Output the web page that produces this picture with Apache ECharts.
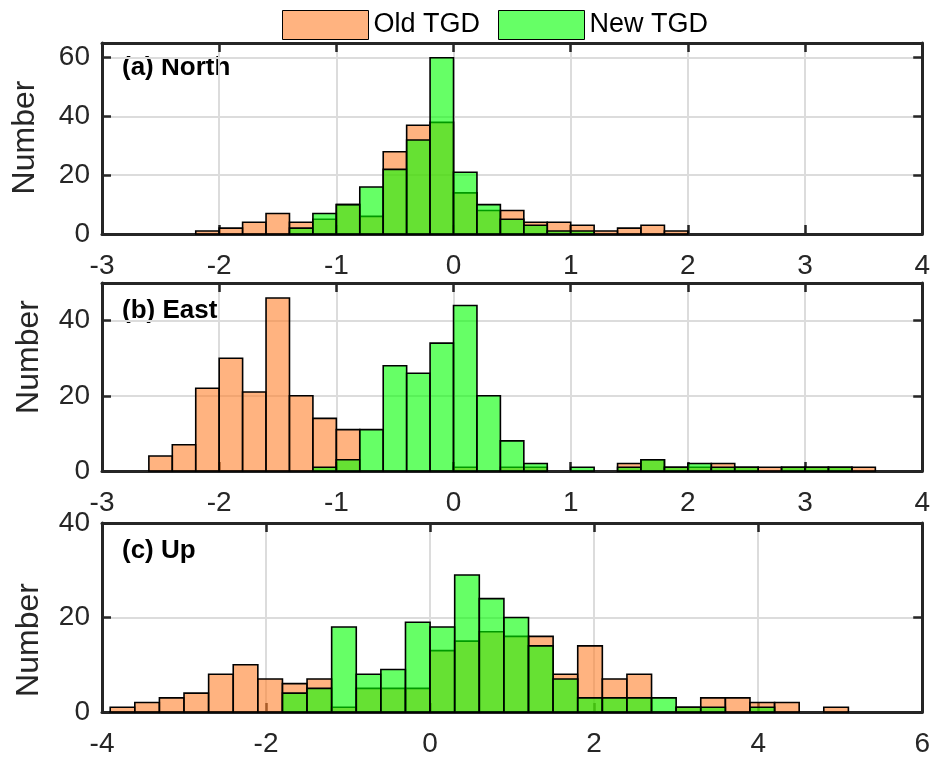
<!DOCTYPE html>
<html>
<head>
<meta charset="utf-8">
<script src="https://cdn.jsdelivr.net/npm/echarts@6/dist/echarts.min.js"></script>
<style>
html, body {
  margin: 0;
  padding: 0;
  background: #fff;
}
#chart {
  width: 933px;
  height: 758px;
}
</style>
</head>
<body>
<div id="chart"></div>
<script>
// bin left edges and counts
const northEdges = [-2.2, -2.0, -1.8, -1.6, -1.4, -1.2, -1.0, -0.8, -0.6, -0.4, -0.2, 0, 0.2, 0.4, 0.6, 0.8, 1.0, 1.2, 1.4, 1.6, 1.8]
const northOld = [1, 2, 4, 7, 4, 5, 10, 6, 28, 37, 38, 14, 8, 8, 4, 4, 3, 1, 2, 3, 1]
const northNew = [0, 0, 0, 0, 2, 7, 10, 16, 22, 32, 60, 21, 10, 5, 3, 1, 1, 0, 0, 0, 0]

const eastEdges = [-2.6, -2.4, -2.2, -2.0, -1.8, -1.6, -1.4, -1.2, -1.0, -0.8, -0.6, -0.4, -0.2, 0, 0.2, 0.4, 0.6, 0.8, 1.0, 1.2, 1.4, 1.6, 1.8, 2.0, 2.2, 2.4, 2.6, 2.8, 3.0, 3.2, 3.4]
const eastOld = [4, 7, 22, 30, 21, 46, 20, 14, 11, 0, 0, 0, 0, 1, 0, 1, 1, 0, 0, 0, 2, 3, 1, 1, 2, 1, 1, 1, 1, 1, 1]
const eastNew = [0, 0, 0, 0, 0, 0, 0, 1, 3, 11, 28, 26, 34, 44, 20, 8, 2, 0, 1, 0, 1, 3, 1, 2, 1, 1, 0, 1, 1, 1, 0]

const upEdges = [-3.9, -3.6, -3.3, -3.0, -2.7, -2.4, -2.1, -1.8, -1.5, -1.2, -0.9, -0.6, -0.3, 0, 0.3, 0.6, 0.9, 1.2, 1.5, 1.8, 2.1, 2.4, 2.7, 3.0, 3.3, 3.6, 3.9, 4.2, 4.5, 4.8]
const upOld = [1, 2, 3, 4, 8, 10, 7, 6, 7, 1, 5, 5, 5, 13, 15, 17, 16, 16, 8, 14, 7, 8, 0, 1, 3, 3, 2, 2, 0, 1]
const upNew = [0, 0, 0, 0, 0, 0, 0, 4, 5, 18, 8, 9, 19, 18, 29, 24, 20, 14, 7, 3, 3, 3, 3, 1, 1, 0, 1, 0, 0, 0]

const panelLabels = ['(a) North', '(b) East', '(c) Up']
const seriesNames = ['Old TGD', 'New TGD']

const OLD_COLOR = 'rgba(255,128,43,0.6)'
const NEW_COLOR = 'rgba(0,255,0,0.6)'
const INK = '#262626'
const FONT = '"Liberation Sans", Arial, Helvetica, sans-serif'

const panels = [
  { edges: northEdges, old: northOld, new: northNew, width: 0.2, xMin: -3, xMax: 4, xStep: 1, yMax: 65, top: 43, height: 191, nameY: 137.5, nameX: 25, labelY: 70 },
  { edges: eastEdges, old: eastOld, new: eastNew, width: 0.2, xMin: -3, xMax: 4, xStep: 1, yMax: 50, top: 283, height: 188, nameY: 357, nameX: 29.5, labelY: 312.5 },
  { edges: upEdges, old: upOld, new: upNew, width: 0.3, xMin: -4, xMax: 6, xStep: 2, yMax: 40, top: 523, height: 189, nameY: 640, nameX: 29.5, labelY: 553 }
]

function histSeries (name, edges, counts, width, idx, color) {
  return {
    name: name,
    type: 'custom',
    xAxisIndex: idx * 2,
    yAxisIndex: idx * 2,
    itemStyle: { color: color, borderColor: '#000', borderWidth: 1 },
    encode: { x: 0, y: 1 },
    data: edges.map((e, i) => [e, counts[i]]),
    renderItem: (params, api) => {
      const x0 = api.value(0)
      const c = api.value(1)
      if (!c) return null
      const p0 = api.coord([x0, c])
      const p1 = api.coord([x0 + width, 0])
      return {
        type: 'rect',
        shape: { x: p0[0], y: p0[1], width: p1[0] - p0[0], height: p1[1] - p0[1] },
        style: { fill: color, stroke: '#000', lineWidth: 1.6 }
      }
    }
  }
}

const grids = []
const xAxes = []
const yAxes = []
const series = []
const graphics = []

const axisLine = { show: true, onZero: false, lineStyle: { color: INK, width: 3 } }
const tick = { show: true, inside: true, length: 9, lineStyle: { color: INK, width: 2.5 } }

panels.forEach((p, i) => {
  grids.push({ left: 102, right: 6, top: p.top, height: p.height })
  xAxes.push({
    type: 'value', gridIndex: i, min: p.xMin, max: p.xMax, interval: p.xStep, position: 'bottom',
    axisLine: axisLine, axisTick: tick,
    axisLabel: { color: INK, fontSize: 28, fontFamily: FONT, margin: 18 },
    splitLine: { show: true, lineStyle: { color: '#dcdcdc', width: 2 } }
  })
  xAxes.push({
    type: 'value', gridIndex: i, min: p.xMin, max: p.xMax, interval: p.xStep, position: 'top',
    axisLine: axisLine, axisTick: tick, axisLabel: { show: false }, splitLine: { show: false }
  })
  yAxes.push({
    type: 'value', gridIndex: i, min: 0, max: p.yMax, interval: 20, position: 'left',
    axisLine: axisLine, axisTick: tick,
    axisLabel: { color: INK, fontSize: 28, fontFamily: FONT, margin: 12, showMaxLabel: p.yMax % 20 === 0 },
    splitLine: { show: true, lineStyle: { color: '#dcdcdc', width: 2 } }
  })
  yAxes.push({
    type: 'value', gridIndex: i, min: 0, max: p.yMax, interval: 20, position: 'right',
    axisLine: axisLine, axisTick: tick, axisLabel: { show: false }, splitLine: { show: false }
  })
  series.push(histSeries(seriesNames[0], p.edges, p.old, p.width, i, OLD_COLOR))
  series.push(histSeries(seriesNames[1], p.edges, p.new, p.width, i, NEW_COLOR))
  graphics.push({
    type: 'text', x: p.nameX, y: p.nameY, rotation: Math.PI / 2,
    style: { text: 'Number', font: '32px ' + FONT, fill: INK, align: 'center', verticalAlign: 'middle' }
  })
  graphics.push({
    type: 'text', left: 122, top: p.labelY - 15,
    style: { text: panelLabels[i], font: 'bold 26px ' + FONT, fill: '#000' }
  })
})

const chart = echarts.init(document.getElementById('chart'))
chart.setOption({
  animation: false,
  backgroundColor: '#fff',
  legend: {
    data: seriesNames,
    left: 282,
    top: 10,
    padding: 0,
    icon: 'rect',
    itemWidth: 86,
    itemHeight: 29,
    itemGap: 18,
    textStyle: { color: '#000', fontSize: 27, fontFamily: FONT, padding: [3, 0, 0, 0] },
    itemStyle: { borderColor: '#000', borderWidth: 1 }
  },
  grid: grids,
  xAxis: xAxes,
  yAxis: yAxes,
  series: series,
  graphic: graphics
})
</script>
</body>
</html>
